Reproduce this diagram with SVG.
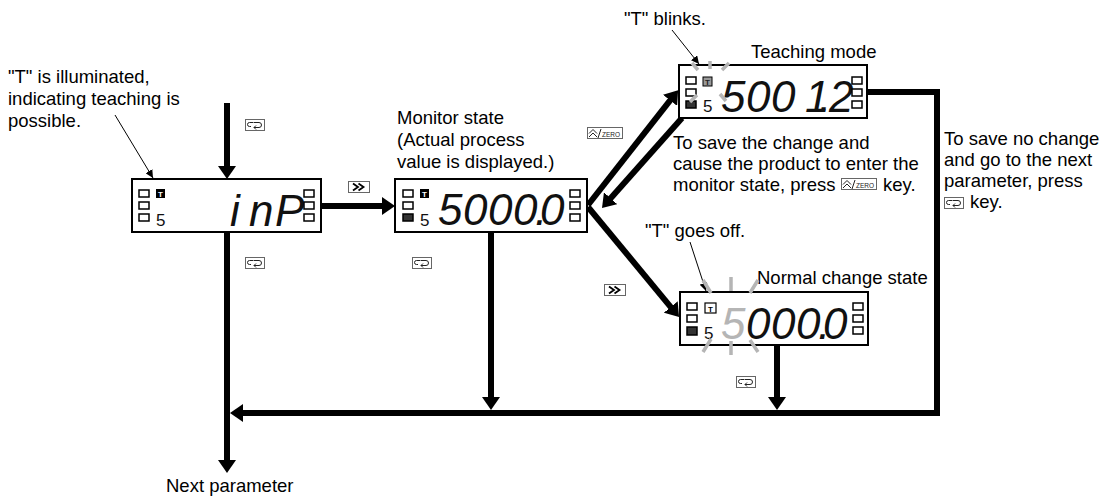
<svg xmlns="http://www.w3.org/2000/svg" width="1113" height="498" viewBox="0 0 1113 498">
<style>
.lbl{font-family:"Liberation Sans",Arial,sans-serif;font-size:18.5px;fill:#000}
.seg{font-family:"Liberation Sans",Arial,sans-serif;font-style:italic;font-size:44px;fill:#111}
.sm{font-family:"Liberation Sans",Arial,sans-serif;font-size:17px;fill:#111}
.box{fill:#fff;stroke:#000;stroke-width:2}
.sq{fill:#fff;stroke:#000;stroke-width:1.5}
.sqf{fill:#333;stroke:#000;stroke-width:1.5}
.thick{stroke:#000;stroke-width:6;fill:none}
.thin{stroke:#000;stroke-width:1;fill:none}
.ray{stroke:#b5b5b5;stroke-width:3.5;fill:none}
.tk{font-family:"Liberation Sans",Arial,sans-serif;font-size:8px;font-weight:bold;text-anchor:middle}
</style>
<defs>
<marker id="ah" viewBox="0 0 13 18" markerWidth="13" markerHeight="18" refX="1" refY="9" orient="auto" markerUnits="userSpaceOnUse"><path d="M0,0 L13,9 L0,18 z" fill="#000"/></marker>
<marker id="as" viewBox="0 0 8 8" markerWidth="8" markerHeight="8" refX="8" refY="4" orient="auto" markerUnits="userSpaceOnUse"><path d="M0,0 L8,4 L0,8 z" fill="#000"/></marker>
<g id="kEnter"><rect x="0.5" y="0.5" width="19" height="11" fill="#fff" stroke="#666" stroke-width="1"/><path d="M8,3.5 H4.5 Q2.5,3.5 2.5,5.5 Q2.5,7.5 4.5,7.5 H6 M8.5,3.5 H14 Q16.5,3.5 16.5,6 Q16.5,8.5 14,8.5 H9 M11,6.5 L9,8.5 L11,10.5" fill="none" stroke="#222" stroke-width="1"/></g>
<g id="kShift"><rect x="0.5" y="0.5" width="21" height="11" fill="#fff" stroke="#666" stroke-width="1"/><path d="M5,2.5 L10,6 L5,9.5 M10.5,2.5 L15.5,6 L10.5,9.5" fill="none" stroke="#000" stroke-width="1.8"/></g>
<g id="kUp"><rect x="0.5" y="0.5" width="35" height="11" fill="#fff" stroke="#666" stroke-width="1"/><path d="M2,6.5 L6,2.5 L10,6.5 M2,10 L6,6 L10,10 M11,11 L14,2" fill="none" stroke="#222" stroke-width="1"/><text x="15" y="10" style="font-family:'Liberation Sans',Arial,sans-serif;font-size:6.5px;fill:#222">ZERO</text></g>
</defs>

<rect width="1113" height="498" fill="#fff"/>

<g id="connectors">
<line class="thick" x1="227" y1="103" x2="227" y2="167" marker-end="url(#ah)"/>
<line class="thick" x1="321" y1="206" x2="383" y2="206" marker-end="url(#ah)"/>
<line class="thick" x1="227" y1="232" x2="227" y2="461" marker-end="url(#ah)"/>
<line class="thick" x1="491" y1="231" x2="491" y2="398" marker-end="url(#ah)"/>
<line class="thick" x1="777" y1="345" x2="777" y2="398" marker-end="url(#ah)"/>
<polyline class="thick" points="867,92 937,92 937,413 242,413" marker-end="url(#ah)"/>
<line class="thick" x1="588" y1="205" x2="670.7" y2="99.6" marker-end="url(#ah)"/>
<line class="thick" x1="682" y1="118" x2="610" y2="199" marker-end="url(#ah)"/>
<line class="thick" x1="588" y1="207" x2="671.4" y2="307.8" marker-end="url(#ah)"/>
<line class="thin" x1="115" y1="115" x2="153" y2="178" marker-end="url(#as)"/>
<line class="thin" x1="672" y1="30" x2="699" y2="64" marker-end="url(#as)"/>
<line class="thin" x1="690" y1="242" x2="706" y2="291" marker-end="url(#as)"/>
<use href="#kEnter" x="245" y="119"/>
<use href="#kShift" x="348" y="181"/>
<use href="#kEnter" x="245" y="257"/>
<use href="#kEnter" x="412" y="257"/>
<use href="#kUp" x="587" y="127"/>
<use href="#kShift" x="604" y="284"/>
<use href="#kEnter" x="736" y="376"/>
</g>

<g id="labels">
<text class="lbl" x="8" y="83">"T" is illuminated,</text>
<text class="lbl" x="8" y="105">indicating teaching is</text>
<text class="lbl" x="8" y="127">possible.</text>
<text class="lbl" x="397" y="124">Monitor state</text>
<text class="lbl" x="397" y="146">(Actual process</text>
<text class="lbl" x="397" y="168">value is displayed.)</text>
<text class="lbl" x="624" y="25">"T" blinks.</text>
<text class="lbl" x="751" y="58">Teaching mode</text>
<text class="lbl" x="673" y="149">To save the change and</text>
<text class="lbl" x="673" y="170">cause the product to enter the</text>
<text class="lbl" x="673" y="191">monitor state, press</text>
<use href="#kUp" x="841" y="178"/>
<text class="lbl" x="883" y="191">key.</text>
<text class="lbl" x="944" y="145">To save no change</text>
<text class="lbl" x="944" y="166">and go to the next</text>
<text class="lbl" x="944" y="187">parameter, press</text>
<use href="#kEnter" x="944" y="197"/>
<text class="lbl" x="970" y="208">key.</text>
<text class="lbl" x="645" y="237">"T" goes off.</text>
<text class="lbl" x="757" y="284">Normal change state</text>
<text class="lbl" x="166" y="492">Next parameter</text>
</g>

<g id="node-inp">
<rect class="box" x="132" y="179" width="189" height="53"/>
<rect class="sq" x="139" y="190" width="10" height="7"/>
<rect class="sq" x="139" y="202" width="10" height="7"/>
<rect class="sq" x="139" y="214" width="10" height="7"/>
<rect x="156" y="189" width="9" height="9" fill="#000"/>
<text class="tk" x="160.5" y="196.5" fill="#fff">T</text>
<text class="sm" x="156" y="226">5</text>
<text class="seg" x="230 249 275" y="226">inP</text>
<rect class="sq" x="304" y="190" width="10" height="7"/>
<rect class="sq" x="304" y="202" width="10" height="7"/>
<rect class="sq" x="304" y="214" width="10" height="7"/>
</g>

<g id="node-monitor">
<rect class="box" x="395" y="179" width="192" height="53"/>
<rect class="sq" x="403" y="190" width="10" height="7"/>
<rect class="sq" x="403" y="202" width="10" height="7"/>
<rect class="sqf" x="403" y="214" width="10" height="7"/>
<rect x="420" y="189" width="9" height="9" fill="#000"/>
<text class="tk" x="424.5" y="196.5" fill="#fff">T</text>
<text class="sm" x="420" y="226">5</text>
<text class="seg" x="438 463 488 513 535 540" y="225">5000.0</text>
<rect class="sq" x="570" y="190" width="10" height="7"/>
<rect class="sq" x="570" y="202" width="10" height="7"/>
<rect class="sq" x="570" y="214" width="10" height="7"/>
</g>

<g id="node-teaching">
<rect class="box" x="679" y="65" width="188" height="53"/>
<rect class="sq" x="686" y="77" width="10" height="7"/>
<rect class="sq" x="686" y="89" width="10" height="7"/>
<rect class="sqf" x="686" y="101" width="10" height="7"/>
<rect x="703" y="77" width="9" height="9" fill="#999" stroke="#000" stroke-width="1"/>
<text class="tk" x="707.5" y="84.5" fill="#222">T</text>
<text class="sm" x="703" y="112">5</text>
<text class="seg" x="721 746 771 805 819 829" y="112">5001.2</text>
<path class="ray" d="M692,63 L698,70 M710,61 L710,69 M729,63 L722,70 M697,95 L690,102 M720,94 L726,101"/>
<rect class="sq" x="852" y="77" width="10" height="7"/>
<rect class="sq" x="852" y="89" width="10" height="7"/>
<rect class="sq" x="852" y="101" width="10" height="7"/>
</g>

<g id="node-normal">
<rect class="box" x="680" y="292" width="188" height="53"/>
<rect class="sq" x="687" y="303" width="10" height="7"/>
<rect class="sq" x="687" y="315" width="10" height="7"/>
<rect class="sqf" x="687" y="327" width="10" height="8"/>
<rect x="705" y="303" width="11" height="10" fill="#fff" stroke="#000" stroke-width="1.2"/>
<text class="tk" x="710.5" y="311.5" fill="#000">T</text>
<text class="sm" x="704" y="339">5</text>
<text class="seg" x="721" y="339" style="fill:#b5b5b5">5</text>
<text class="seg" x="746 771 796 818 823" y="339">000.0</text>
<path class="ray" d="M703,280 L711,293 M731,277 L731,291 M758,280 L750,293 M711,339 L703,352 M731,341 L731,355 M750,340 L758,352"/>
<rect class="sq" x="853" y="303" width="10" height="7"/>
<rect class="sq" x="853" y="315" width="10" height="7"/>
<rect class="sq" x="853" y="327" width="10" height="7"/>
</g>
</svg>
